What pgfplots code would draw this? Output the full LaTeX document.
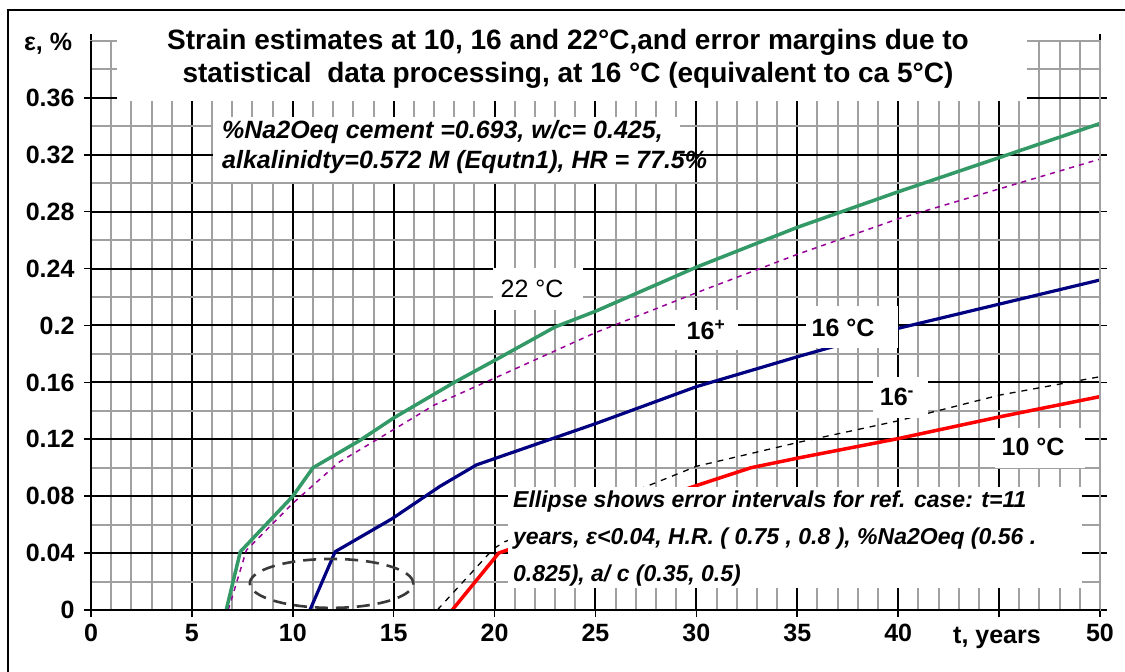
\documentclass[border=0pt]{standalone}
\usepackage{pgfplots}
\pgfplotsset{compat=1.18}
\usepackage{fontspec}
\setmainfont{Liberation Sans}
\definecolor{grn}{HTML}{339966}
\definecolor{nav}{HTML}{000080}
\definecolor{vio}{HTML}{990099}
\definecolor{ell}{HTML}{3A3A3A}
\definecolor{gr}{HTML}{A0A0A0}
\begin{document}
\begin{tikzpicture}[x=1pt,y=1pt]
\useasboundingbox (0,0) rectangle (1125,672);
\fill[white] (0,0) rectangle (1125,672);
\begin{axis}[
  at={(91pt,62pt)}, anchor=south west,
  scale only axis, width=1009pt, height=569pt,
  xmin=0, xmax=50, ymin=0, ymax=0.4,
  clip=false,
  xtick={0,5,10,15,20,25,30,35,40,45,50},
  xticklabels={0,5,10,15,20,25,30,35,40,,50},
  ytick={0,0.04,0.08,0.12,0.16,0.2,0.24,0.28,0.32,0.36},
  yticklabels={0,0.04,0.08,0.12,0.16,0.2,0.24,0.28,0.32,0.36},
  minor xtick={1,2,3,4,6,7,8,9,11,12,13,14,16,17,18,19,21,22,23,24,26,27,28,29,31,32,33,34,36,37,38,39,41,42,43,44,46,47,48,49},
  minor ytick={0.02,0.06,0.10,0.14,0.18,0.22,0.26,0.30,0.34,0.38},
  grid=both,
  major grid style={black, line width=2pt},
  minor grid style={gr, line width=2pt},
  tick align=outside, major tick length=7pt, minor tick length=0pt,
  tick style={black, line width=1.6pt},
  axis line style={gr, line width=1.6pt},
  ticklabel style={font=\bfseries\fontsize{25}{30}\selectfont},
  xticklabel style={yshift=-4pt},
  yticklabel style={xshift=-6pt},
]
\addplot[vio, line width=1.5pt, dash pattern=on 5pt off 5pt] coordinates {
(6.8,0) (7.7,0.042) (10,0.075) (12.3,0.104) (14.9,0.126) (17,0.144) (20,0.163) (25,0.195) (30,0.223) (35,0.25) (40,0.275) (45,0.296) (50,0.317)};
\addplot[grn, line width=3.5pt] coordinates {
(6.7,0) (7.4,0.041) (10,0.08) (11,0.1) (13.3,0.119) (15,0.135) (18,0.16) (20.2,0.177) (23,0.199) (25,0.21) (30,0.241) (35,0.269) (40,0.294) (45,0.318) (50,0.342)};
\addplot[black, line width=1.3pt, dash pattern=on 6pt off 6pt] coordinates {
(17.16,0) (19.94,0.043) (20.5,0.048) (27.9,0.089) (30,0.101) (35.1,0.118) (40,0.133) (45,0.151) (50,0.164)};
\addplot[nav, line width=3.2pt] coordinates {
(10.85,0) (12.1,0.041) (14.9,0.064) (17.3,0.087) (19.1,0.102) (25,0.131) (30,0.157) (35,0.178) (40,0.198) (45,0.215) (50,0.232)};
\addplot[red, line width=3.5pt] coordinates {
(17.9,0) (20.2,0.04) (20.6,0.042) (29.9,0.087) (32.7,0.1) (35.1,0.107) (40,0.1205) (45,0.1357) (50,0.150)};
\draw[ell, line width=2.6pt, dash pattern=on 13pt off 8pt] (axis cs:11.92,0.0187) ellipse [x radius=4.05, y radius=0.0172];
\draw[gr, line width=2pt] (axis cs:0,0.4) -- (axis cs:50,0.4) -- (axis cs:50,0);
\draw[black, line width=2pt] (axis cs:0,0.4) -- (axis cs:0,0) -- (axis cs:50,0);
\end{axis}
% title
\fill[white] (117,571) rectangle (1027,652);
\node[align=center, font=\bfseries\fontsize{28}{33}\selectfont] at (568,613) {Strain estimates at 10, 16 and 22°C,and error margins due to\\statistical\ \ data processing, at 16 °C (equivalent to ca 5°C)};
% box 1
\fill[white] (213,490) rectangle (680,555);
\node[anchor=west, align=left, inner sep=0pt, font=\bfseries\itshape\fontsize{25}{30}\selectfont] at (222,525) {\%Na2Oeq cement =0.693, w/c= 0.425,\\alkalinidty=0.572 M (Equtn1), HR = 77.5\%};
% box 2
\fill[white] (508,84) rectangle (1082,185);
\node[anchor=west, align=left, inner sep=0pt, font=\bfseries\itshape\fontsize{23}{37}\selectfont] at (513,133) {Ellipse shows error intervals for ref. case: t=11\\years, ε<0.04, H.R. ( 0.75 , 0.8 ), \%Na2Oeq (0.56 .\\0.825), a/ c (0.35, 0.5)};
% curve labels
\fill[white] (493,362) rectangle (583,404);
\node[font=\fontsize{25}{30}\selectfont] at (532,383) {22 °C};
\fill[white] (675,322) rectangle (738,362);
\node[font=\bfseries\fontsize{25}{30}\selectfont] at (706,342) {16\textsuperscript{+}};
\fill[white] (806,324) rectangle (898,366);
\node[font=\bfseries\fontsize{25}{30}\selectfont] at (843,344) {16 °C};
\fill[white] (873,254) rectangle (928,295);
\node[font=\bfseries\fontsize{25}{30}\selectfont] at (897,275) {16\textsuperscript{-}};
\fill[white] (995,204) rectangle (1085,244);
\node[font=\bfseries\fontsize{25}{30}\selectfont] at (1033,225) {10 °C};
% axis labels
\node[font=\bfseries\fontsize{25}{30}\selectfont] at (48,628) {ε, \%};
\node[font=\bfseries\fontsize{25}{30}\selectfont] at (997,34) {t, years};
% frame
\draw[black, line width=2pt] (8,0) -- (8,662) -- (1125,662);
\end{tikzpicture}
\end{document}
